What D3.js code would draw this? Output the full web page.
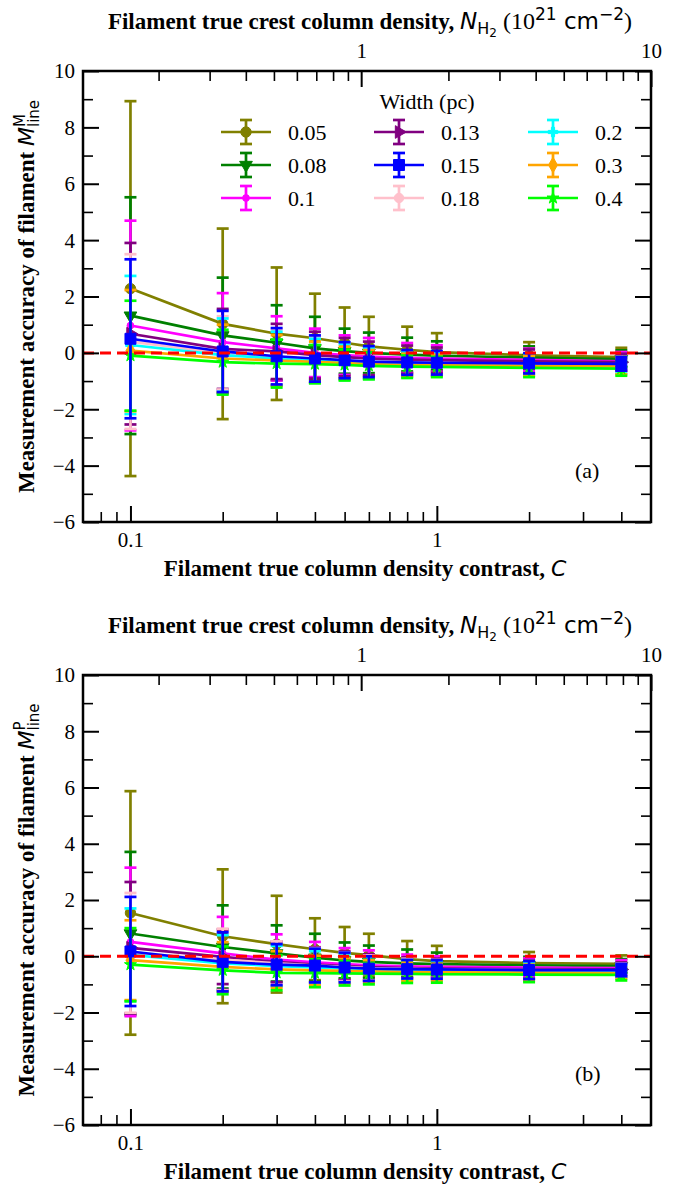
<!DOCTYPE html>
<html><head><meta charset="utf-8">
<script src="https://cdn.jsdelivr.net/npm/d3@7"></script>
<style>body{margin:0;background:#fff} svg{display:block} text{white-space:pre}</style>
</head><body><svg id="c" width="679" height="1184"></svg>
<script>
// ---------------- data ----------------
const contrast = [0.1, 0.2, 0.3, 0.4, 0.5, 0.6, 0.8, 1, 2, 4];
const widths = ["0.05", "0.08", "0.1", "0.13", "0.15", "0.18", "0.2", "0.3", "0.4"];
const colors = ["#808000", "#008000", "#ff00ff", "#800080", "#0000ff", "#ffc0cb", "#00ffff", "#ffa500", "#00ff00"];

const valuesA = [
  [2.28, 1.03, 0.68, 0.52, 0.36, 0.23, 0.11, 0.03, -0.09, -0.15],
  [1.32, 0.62, 0.36, 0.16, 0.06, 0.0, -0.06, -0.1, -0.17, -0.22],
  [0.97, 0.38, 0.16, 0.0, -0.08, -0.13, -0.18, -0.2, -0.25, -0.3],
  [0.68, 0.14, 0.05, -0.08, -0.15, -0.2, -0.24, -0.26, -0.3, -0.33],
  [0.5, 0.05, -0.12, -0.2, -0.26, -0.31, -0.34, -0.35, -0.37, -0.39],
  [0.4, 0.0, -0.15, -0.24, -0.3, -0.34, -0.37, -0.38, -0.4, -0.42],
  [0.28, -0.08, -0.2, -0.28, -0.33, -0.37, -0.4, -0.41, -0.43, -0.45],
  [0.08, -0.2, -0.27, -0.32, -0.36, -0.4, -0.43, -0.44, -0.46, -0.48],
  [-0.1, -0.33, -0.38, -0.4, -0.43, -0.46, -0.49, -0.5, -0.53, -0.56]
];
const errorsA = [
  [6.65, 3.38, 2.35, 1.58, 1.25, 1.05, 0.82, 0.67, 0.47, 0.33],
  [4.2, 2.05, 1.33, 1.12, 0.8, 0.72, 0.6, 0.51, 0.4, 0.31],
  [3.72, 1.74, 1.14, 0.86, 0.7, 0.66, 0.53, 0.47, 0.4, 0.33],
  [3.22, 1.42, 0.98, 0.83, 0.68, 0.6, 0.5, 0.45, 0.42, 0.3],
  [2.82, 1.44, 1.0, 0.82, 0.64, 0.55, 0.44, 0.42, 0.36, 0.24],
  [3.1, 1.3, 0.98, 0.8, 0.65, 0.56, 0.46, 0.42, 0.38, 0.28],
  [2.45, 1.3, 0.95, 0.78, 0.63, 0.55, 0.45, 0.41, 0.37, 0.28],
  [2.15, 1.2, 0.9, 0.72, 0.58, 0.5, 0.4, 0.38, 0.35, 0.28],
  [1.95, 1.15, 0.85, 0.68, 0.55, 0.48, 0.4, 0.36, 0.33, 0.25]
];
const valuesB = [
  [1.54, 0.71, 0.43, 0.25, 0.12, 0.04, -0.1, -0.17, -0.24, -0.27],
  [0.81, 0.33, 0.1, -0.05, -0.15, -0.2, -0.25, -0.28, -0.32, -0.35],
  [0.51, 0.1, -0.12, -0.22, -0.28, -0.32, -0.36, -0.38, -0.4, -0.42],
  [0.3, -0.02, -0.2, -0.3, -0.35, -0.39, -0.42, -0.44, -0.46, -0.47],
  [0.17, -0.2, -0.3, -0.33, -0.4, -0.44, -0.46, -0.47, -0.49, -0.49],
  [0.12, -0.12, -0.25, -0.33, -0.38, -0.42, -0.45, -0.47, -0.49, -0.5],
  [0.05, -0.25, -0.35, -0.4, -0.43, -0.46, -0.49, -0.5, -0.52, -0.53],
  [-0.14, -0.38, -0.47, -0.5, -0.52, -0.54, -0.56, -0.57, -0.58, -0.6],
  [-0.3, -0.5, -0.59, -0.6, -0.61, -0.62, -0.63, -0.64, -0.65, -0.66]
];
const errorsB = [
  [4.33, 2.38, 1.72, 1.1, 0.92, 0.76, 0.64, 0.54, 0.39, 0.3],
  [2.9, 1.48, 1.0, 0.85, 0.64, 0.58, 0.49, 0.41, 0.3, 0.25],
  [2.64, 1.3, 0.9, 0.73, 0.57, 0.53, 0.42, 0.38, 0.33, 0.28],
  [2.34, 0.97, 0.72, 0.62, 0.52, 0.46, 0.38, 0.35, 0.32, 0.25],
  [1.94, 1.05, 0.73, 0.6, 0.53, 0.44, 0.33, 0.33, 0.32, 0.22],
  [2.13, 1.1, 0.78, 0.62, 0.52, 0.45, 0.36, 0.34, 0.32, 0.24],
  [1.65, 1.0, 0.72, 0.58, 0.5, 0.43, 0.35, 0.33, 0.3, 0.22],
  [1.42, 0.88, 0.65, 0.52, 0.45, 0.4, 0.33, 0.3, 0.28, 0.2],
  [1.3, 0.85, 0.62, 0.5, 0.43, 0.38, 0.32, 0.3, 0.27, 0.2]
];

const xMajorTicks = [0.1, 1];
const xMinorTicks = [0.08, 0.09, 0.2, 0.3, 0.4, 0.5, 0.6, 0.7, 0.8, 0.9, 2, 3, 4];
const topMajorTicks = [1, 10];
const topMinorTicks = [0.2, 0.3, 0.4, 0.5, 0.6, 0.7, 0.8, 0.9, 2, 3, 4, 5, 6, 7, 8, 9];
const yMajorTicks = [-6, -4, -2, 0, 2, 4, 6, 8, 10];
const yMinorTicks = [-5, -3, -1, 1, 3, 5, 7, 9];

// ---------------- styling ----------------
const serif = "'Liberation Serif','Times New Roman',serif";
const sans = "'DejaVu Sans',sans-serif";
const symbols = [d3.symbolCircle, d3.symbolTriangle, d3.symbolCircle, d3.symbolTriangle, d3.symbolSquare,
                 d3.symbolCircle, d3.symbolCross, d3.symbolDiamond, d3.symbolStar];
const symRot = [0, 180, 0, 90, 0, 0, 0, 0, 0];
const symSize = [85, 70, 36, 70, 120, 70, 50, 70, 45];
const drawOrder = [0, 1, 2, 3, 5, 6, 7, 8, 4];
const LW = 2.7;

const svg = d3.select("#c");
const L = 83, R = 651;
const x = d3.scaleLog().domain([0.07, 5]).range([L, R]);
const xTop = d3.scaleLog().domain([0.1097, 10]).range([L, R]);

const panels = [
  {top: 71, bottom: 522, vals: valuesA, errs: errorsA, tag: "(a)", sup: "M"},
  {top: 675, bottom: 1125, vals: valuesB, errs: errorsB, tag: "(b)", sup: "P"}
];

function styleAxis(g, width) {
  g.select(".domain").remove();
  g.selectAll("line").attr("stroke", "#000").attr("stroke-width", width);
  g.selectAll("text").attr("fill", "#000").attr("font-family", serif).attr("font-size", 21);
}

panels.forEach((p, pi) => {
  const y = d3.scaleLinear().domain([-6, 10]).range([p.bottom, p.top]);
  const g = svg.append("g");

  // data
  const dg = g.append("g");
  const line = d3.line().x((d, i) => x(contrast[i])).y(d => y(d));
  drawOrder.forEach(s => {
    const c = colors[s];
    const sg = dg.append("g");
    contrast.forEach((cx, i) => {
      const v = p.vals[s][i], e = p.errs[s][i];
      const px = x(cx), y1 = y(v - e), y2 = y(v + e);
      sg.append("line").attr("x1", px).attr("x2", px).attr("y1", y1).attr("y2", y2)
        .attr("stroke", c).attr("stroke-width", LW);
      [y1, y2].forEach(yy => sg.append("line").attr("x1", px - 6).attr("x2", px + 6)
        .attr("y1", yy).attr("y2", yy).attr("stroke", c).attr("stroke-width", LW));
    });
    sg.append("path").attr("d", line(p.vals[s])).attr("fill", "none")
      .attr("stroke", c).attr("stroke-width", LW);
    sg.selectAll("path.m").data(p.vals[s]).join("path").attr("class", "m")
      .attr("d", d3.symbol(symbols[s], symSize[s]))
      .attr("transform", (d, i) => `translate(${x(contrast[i])},${y(d)}) rotate(${symRot[s]})`)
      .attr("fill", c).attr("stroke", c).attr("stroke-width", 1);
  });

  // zero reference
  g.append("line").attr("x1", L).attr("x2", R).attr("y1", y(0)).attr("y2", y(0))
    .attr("stroke", "#ff0000").attr("stroke-width", 3).attr("stroke-dasharray", "11,6");

  // axes
  const gb = g.append("g").attr("transform", `translate(0,${p.bottom})`)
    .call(d3.axisBottom(x).tickValues(xMajorTicks).tickSize(-16).tickFormat(d => d === 1 ? "1" : "0.1"));
  styleAxis(gb, 2);
  gb.selectAll("text").attr("y", 25).attr("dy", 0);
  const gbm = g.append("g").attr("transform", `translate(0,${p.bottom})`)
    .call(d3.axisBottom(x).tickValues(xMinorTicks).tickSize(-10).tickFormat(""));
  styleAxis(gbm, 1.6);

  const gt = g.append("g").attr("transform", `translate(0,${p.top})`)
    .call(d3.axisTop(xTop).tickValues(topMajorTicks).tickSize(-16).tickFormat(d => String(d)));
  styleAxis(gt, 2);
  gt.selectAll("text").attr("y", -13).attr("dy", 0);
  const gtm = g.append("g").attr("transform", `translate(0,${p.top})`)
    .call(d3.axisTop(xTop).tickValues(topMinorTicks).tickSize(-10).tickFormat(""));
  styleAxis(gtm, 1.6);

  const gl = g.append("g").attr("transform", `translate(${L},0)`)
    .call(d3.axisLeft(y).tickValues(yMajorTicks).tickSize(-16));
  styleAxis(gl, 2);
  gl.selectAll("text").attr("x", -8).attr("dy", "0.33em");
  const glm = g.append("g").attr("transform", `translate(${L},0)`)
    .call(d3.axisLeft(y).tickValues(yMinorTicks).tickSize(-10).tickFormat(""));
  styleAxis(glm, 1.6);

  const gr = g.append("g").attr("transform", `translate(${R},0)`)
    .call(d3.axisRight(y).tickValues(yMajorTicks).tickSize(-16).tickFormat(""));
  styleAxis(gr, 2);
  const grm = g.append("g").attr("transform", `translate(${R},0)`)
    .call(d3.axisRight(y).tickValues(yMinorTicks).tickSize(-10).tickFormat(""));
  styleAxis(grm, 1.6);

  // frame
  g.append("rect").attr("x", L).attr("y", p.top).attr("width", R - L).attr("height", p.bottom - p.top)
    .attr("fill", "none").attr("stroke", "#000").attr("stroke-width", 2.5);

  // panel tag
  g.append("text").attr("x", 575).attr("y", p.bottom - 44).attr("font-family", serif)
    .attr("font-size", 22).text(p.tag);

  // bottom title
  const bt = g.append("text").attr("x", 365).attr("y", p.bottom + 54).attr("text-anchor", "middle")
    .attr("font-size", 23);
  bt.append("tspan").attr("font-family", serif).attr("font-weight", "bold").text("Filament true column density contrast, ");
  bt.append("tspan").attr("font-family", sans).attr("font-style", "italic").attr("font-size", 22).text("C");

  // top title
  const tt = g.append("text").attr("x", 370).attr("y", p.top - 42).attr("text-anchor", "middle")
    .attr("font-size", 23);
  tt.append("tspan").attr("font-family", serif).attr("font-weight", "bold").text("Filament true crest column density, ");
  tt.append("tspan").attr("font-family", sans).attr("font-style", "italic").attr("font-size", 23).text("N");
  tt.append("tspan").attr("font-family", sans).attr("font-size", 16).attr("dy", 5).text("H");
  tt.append("tspan").attr("font-family", sans).attr("font-size", 12).attr("dy", 3).text("2");
  tt.append("tspan").attr("font-family", serif).attr("font-size", 24).attr("dy", -8).text(" (10");
  tt.append("tspan").attr("font-family", sans).attr("font-size", 17).attr("dy", -9).text("21");
  tt.append("tspan").attr("font-family", sans).attr("font-size", 23).attr("dy", 9).text(" cm");
  tt.append("tspan").attr("font-family", sans).attr("font-size", 17).attr("dy", -9).text("\u22122");
  tt.append("tspan").attr("font-family", serif).attr("font-size", 24).attr("dy", 9).text(")");

  // y title
  const cy = (p.top + p.bottom) / 2;
  const yt = g.append("text").attr("transform", `translate(34,${cy}) rotate(-90)`)
    .attr("text-anchor", "middle").attr("font-size", 23);
  yt.append("tspan").attr("font-family", serif).attr("font-weight", "bold").text("Measurement accuracy of filament ");
  yt.append("tspan").attr("font-family", sans).attr("font-style", "italic").attr("font-size", 22).text("M");
  const sp = yt.append("tspan").attr("font-family", sans).attr("font-size", 15).attr("dy", -9).text(p.sup);
  const supW = sp.node().getComputedTextLength();
  yt.append("tspan").attr("font-family", sans).attr("font-size", 15).attr("dx", -supW).attr("dy", 14).text("line");
});

// ---------------- legend (panel a) ----------------
const lg = svg.append("g");
lg.append("text").attr("x", 427).attr("y", 109).attr("text-anchor", "middle")
  .attr("font-family", serif).attr("font-size", 22).text("Width (pc)");
const colX = [221, 374, 528];
const rowY = [132, 165, 198];
widths.forEach((w, s) => {
  const cx0 = colX[Math.floor(s / 3)], cy0 = rowY[s % 3], c = colors[s];
  const mx = cx0 + 25;
  lg.append("line").attr("x1", cx0).attr("x2", cx0 + 50).attr("y1", cy0).attr("y2", cy0)
    .attr("stroke", c).attr("stroke-width", LW);
  lg.append("line").attr("x1", mx).attr("x2", mx).attr("y1", cy0 - 12).attr("y2", cy0 + 12)
    .attr("stroke", c).attr("stroke-width", LW);
  [cy0 - 12, cy0 + 12].forEach(yy => lg.append("line").attr("x1", mx - 6).attr("x2", mx + 6)
    .attr("y1", yy).attr("y2", yy).attr("stroke", c).attr("stroke-width", LW));
  lg.append("path").attr("d", d3.symbol(symbols[s], symSize[s]))
    .attr("transform", `translate(${mx},${cy0}) rotate(${symRot[s]})`).attr("fill", c).attr("stroke", c);
  lg.append("text").attr("x", cx0 + 67).attr("y", cy0 + 8).attr("font-family", serif)
    .attr("font-size", 22).text(w);
});
</script></body></html>
